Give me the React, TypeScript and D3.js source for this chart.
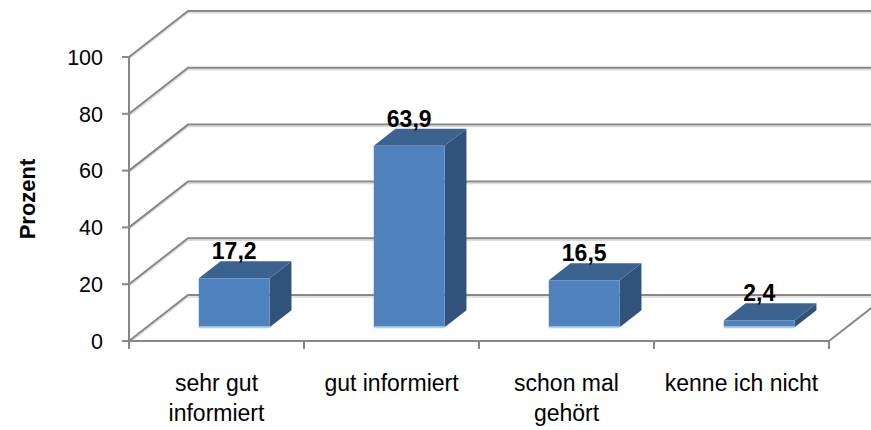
import React from "react";
import * as d3 from "d3";

const categories: string[][] = [["sehr gut", "informiert"], ["gut informiert"], ["schon mal", "gehört"], ["kenne ich nicht"]];
const values: number[] = [17.2, 63.9, 16.5, 2.4];
const valueLabels: string[] = ["17,2", "63,9", "16,5", "2,4"];
const yTicks: number[] = [0, 20, 40, 60, 80, 100];
const yAxisTitle = "Prozent";

const W = 871;
const H = 430;
const DX = 59;
const DY = -46;
const Z0 = 0.3;
const Z1 = 0.67;
const FONT = "'Liberation Sans', Arial, sans-serif";
const GRID = "#878787";

export default function App() {
  const y = d3.scaleLinear().domain([0, 100]).range([341, 57]);
  const x = d3.scaleBand<number>().domain(values.map((_, i) => i)).range([129, 829]).padding(0);
  const bw = x.bandwidth() * 0.405;
  const p = (px: number, py: number, z: number): [number, number] => [px + z * DX, py + z * DY];
  const poly = (pts: [number, number][]) => pts.map((q) => q.join(",")).join(" ");
  const [x0, x1] = x.range();
  const yb = y(0);

  return (
    <svg width={W} height={H} style={{ position: "absolute", left: 0, top: 0, background: "#fff" }} fontFamily={FONT}>
      {/* back wall + left wall gridlines */}
      {yTicks.map((t) => {
        const f = [x0, y(t)] as [number, number];
        const b = p(x0, y(t), 1);
        return (
          <g key={"g" + t}>
            <polyline points={poly([[f[0], f[1] + 2], [b[0], b[1] + 2], [W, b[1] + 2]])} fill="none" stroke="#dcdcdc" strokeWidth={1.5} />
            <polyline points={poly([f, b, [W, b[1]]])} fill="none" stroke={GRID} strokeWidth={2} />
          </g>
        );
      })}
      {/* floor right edge */}
      <line x1={x1} y1={yb} x2={x1 + DX} y2={yb + DY} stroke={GRID} strokeWidth={2} />
      {/* bars */}
      {values.map((v, i) => {
        const cx = (x(i) as number) + x.bandwidth() / 2;
        const xl = cx - bw / 2;
        const xr = cx + bw / 2;
        const yt = y(v);
        const front = [p(xl, yt, Z0), p(xr, yt, Z0), p(xr, yb, Z0), p(xl, yb, Z0)];
        const top = [p(xl, yt, Z0), p(xr, yt, Z0), p(xr, yt, Z1), p(xl, yt, Z1)];
        const side = [p(xr, yt, Z0), p(xr, yt, Z1), p(xr, yb, Z1), p(xr, yb, Z0)];
        const bl = p(xl, yb, Z0);
        const br = p(xr, yb, Z0);
        return (
          <g key={"b" + i}>
            <polygon points={poly(side)} fill="#31527b" />
            <polygon points={poly(top)} fill="#3c6390" />
            <polygon points={poly(front)} fill="#4f81bd" />
            <line x1={bl[0]} y1={bl[1]} x2={br[0]} y2={br[1]} stroke="#b9cde5" strokeWidth={2} />
          </g>
        );
      })}
      {/* front axes */}
      <line x1={x0} y1={y(100)} x2={x0} y2={yb} stroke={GRID} strokeWidth={2} />
      <line x1={x0} y1={yb} x2={x1} y2={yb} stroke={GRID} strokeWidth={2} />
      {yTicks.map((t) => (
        <g key={"t" + t}>
          <line x1={x0 - 7} y1={y(t)} x2={x0} y2={y(t)} stroke={GRID} strokeWidth={2} />
          <text x={103} y={y(t)} dy="0.36em" textAnchor="end" fontSize={21.5} fill="#000">{t}</text>
        </g>
      ))}
      {values.map((_, i) => (
        <line key={"c" + i} x1={x(i) as number} y1={yb} x2={x(i) as number} y2={yb + 8} stroke={GRID} strokeWidth={2} />
      ))}
      <line x1={x1} y1={yb} x2={x1} y2={yb + 8} stroke={GRID} strokeWidth={2} />
      {/* category labels */}
      {categories.map((lines, i) => {
        const cx = (x(i) as number) + x.bandwidth() / 2;
        return (
          <text key={"l" + i} x={cx} y={391} textAnchor="middle" fontSize={23} fill="#000">
            {lines.map((s, j) => (
              <tspan key={j} x={cx} dy={j === 0 ? 0 : 30}>{s}</tspan>
            ))}
          </text>
        );
      })}
      {/* value labels */}
      {values.map((v, i) => {
        const cx = (x(i) as number) + x.bandwidth() / 2 + Z0 * DX;
        const ty = y(v) + Z1 * DY - 2;
        return (
          <text key={"v" + i} x={cx} y={ty} textAnchor="middle" fontSize={23} fontWeight="bold" fill="#000">
            {valueLabels[i]}
          </text>
        );
      })}
      <text transform={`translate(35,199) rotate(-90)`} textAnchor="middle" fontSize={22} fontWeight="bold" fill="#000">
        {yAxisTitle}
      </text>
    </svg>
  );
}
